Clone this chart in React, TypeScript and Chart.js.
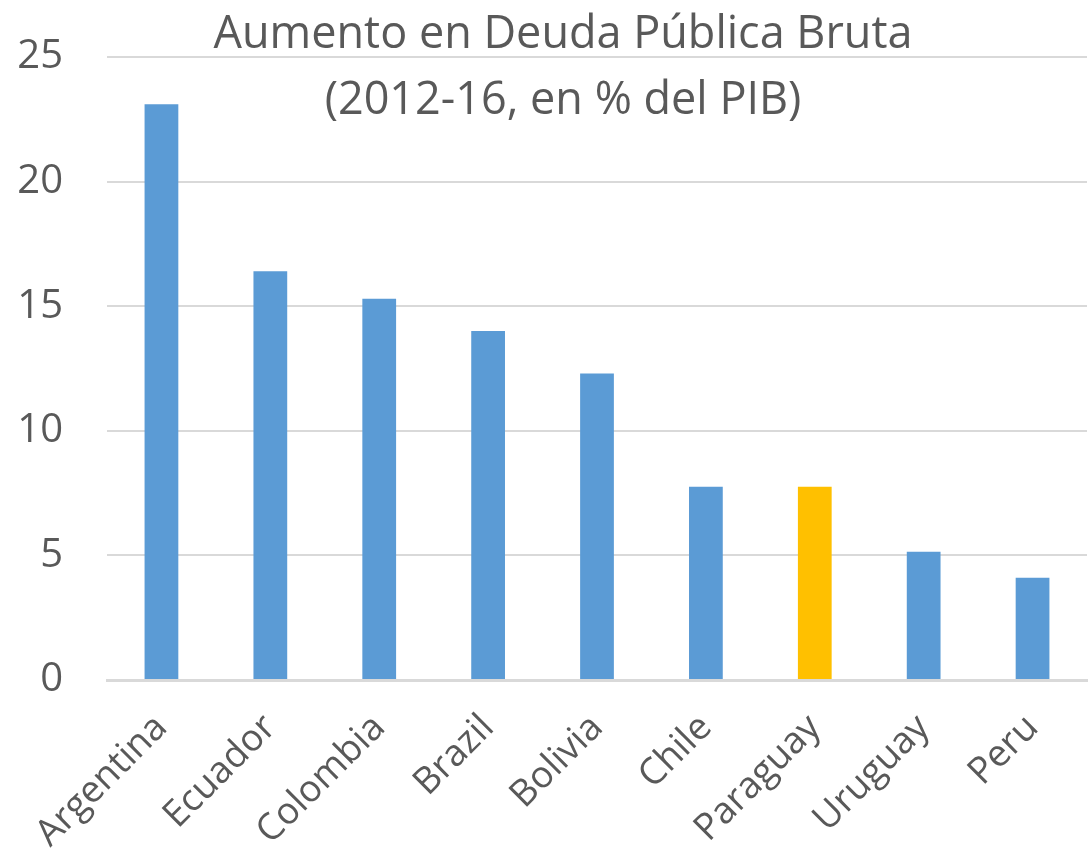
import React, { useEffect, useRef } from "react";
import { Chart, registerables } from "chart.js";

Chart.register(...registerables);

const categories = ["Argentina", "Ecuador", "Colombia", "Brazil", "Bolivia", "Chile", "Paraguay", "Uruguay", "Peru"];
const values = [23.1, 16.4, 15.3, 14.0, 12.3, 7.75, 7.75, 5.15, 4.1];
const barColors = ["#5B9BD5", "#5B9BD5", "#5B9BD5", "#5B9BD5", "#5B9BD5", "#5B9BD5", "#FFC000", "#5B9BD5", "#5B9BD5"];
const titleLines = ["Aumento en Deuda Pública Bruta", "(2012-16, en % del PIB)"];
const yTicks = [0, 5, 10, 15, 20, 25];

const titlePlugin = {
  id: "overTitle",
  afterDraw(chart: any) {
    const ctx = chart.ctx;
    ctx.save();
    ctx.fillStyle = "#595959";
    ctx.font = "45px 'Open Sans', sans-serif";
    ctx.textAlign = "center";
    ctx.textBaseline = "middle";
    ctx.fillText(titleLines[0], 563, 35);
    ctx.fillText(titleLines[1], 563, 101);
    ctx.restore();
  },
};

export default function App() {
  const ref = useRef<HTMLCanvasElement>(null);
  useEffect(() => {
    document.body.style.margin = "0";
    const chart = new Chart(ref.current!, {
      type: "bar",
      data: {
        labels: categories,
        datasets: [
          {
            data: values,
            backgroundColor: barColors,
            barPercentage: 0.62,
            categoryPercentage: 0.5,
          },
        ],
      },
      options: {
        animation: false,
        responsive: false,
        maintainAspectRatio: false,
        layout: { padding: { top: 57, right: 5, left: 0, bottom: 0 } },
        plugins: { legend: { display: false }, tooltip: { enabled: false }, title: { display: false } },
        scales: {
          x: {
            grid: { display: false },
            border: { color: "#d9d9d9", width: 3 },
            ticks: {
              color: "#595959",
              font: { family: "'Open Sans', sans-serif", size: 37 },
              maxRotation: 45,
              minRotation: 45,
              padding: 18,
            },
            afterFit(s: any) {
              s.height = 177;
            },
          },
          y: {
            min: 0,
            max: 25,
            afterBuildTicks(s: any) {
              s.ticks = yTicks.map((v) => ({ value: v }));
            },
            grid: { color: "#d9d9d9", lineWidth: 2, drawTicks: false },
            border: { display: false },
            ticks: {
              color: "#595959",
              font: { family: "'Open Sans', sans-serif", size: 40, lineHeight: 1 },
              padding: 44,
            },
            afterFit(s: any) {
              s.width = 107;
              s.paddingTop = 0;
              s.paddingBottom = 0;
            },
          },
        },
      },
      plugins: [titlePlugin],
    });
    return () => chart.destroy();
  }, []);
  return (
    <div style={{ position: "absolute", left: 0, top: 0, width: 1092, height: 857 }}>
      <canvas ref={ref} width={1092} height={857} style={{ width: 1092, height: 857 }} />
    </div>
  );
}
